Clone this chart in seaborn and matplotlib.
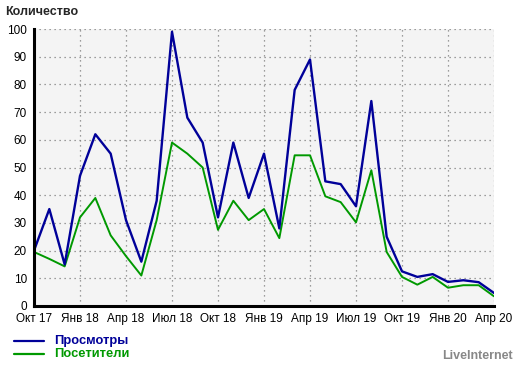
"""Monthly views and visitors, LiveInternet-style counter chart."""

import matplotlib

matplotlib.use("Agg")
import matplotlib.pyplot as plt
import numpy as np
import pandas as pd
import seaborn as sns

# Oct 2017 .. Apr 2020, one value per month
months = pd.date_range("2017-10-01", "2020-04-01", freq="MS")
views = [20, 35, 15, 47, 62, 55, 31, 16, 38, 99, 68, 59, 32, 59, 39, 55,
         28, 78, 89, 45, 44, 36, 74, 25, 12.5, 10.5, 11.5, 8.7, 9.3, 8.6, 4.7]
visitors = [19.5, 17, 14.3, 32, 39, 25.5, 18, 11, 31, 59, 55, 50, 27.5, 38,
            31, 35, 24.5, 54.4, 54.4, 39.6, 37.5, 30.2, 49, 19.5, 10.5, 7.7,
            10.5, 6.6, 7.5, 7.5, 3.5]
tick_labels = ["Окт 17", "Янв 18", "Апр 18", "Июл 18", "Окт 18", "Янв 19",
               "Апр 19", "Июл 19", "Окт 19", "Янв 20", "Апр 20"]
y_ticks = list(range(0, 101, 10))

BLUE = "#000099"
GREEN = "#009900"

sns.set_style("white")
plt.rcParams["font.family"] = ["Liberation Sans", "DejaVu Sans"]

df = pd.DataFrame({"idx": np.arange(len(months)), "views": views, "visitors": visitors})

fig = plt.figure(figsize=(5.2, 3.66), dpi=100)
ax = fig.add_axes([34 / 520, 1 - 306 / 366, 460 / 520, 277 / 366])
ax.set_facecolor("#f4f4f4")

sns.lineplot(data=df, x="idx", y="visitors", color=GREEN, lw=1.4, ax=ax)
sns.lineplot(data=df, x="idx", y="views", color=BLUE, lw=1.7, ax=ax)

ax.set_xlim(0, len(months) - 1)
ax.set_ylim(0, 100)
ax.set_xticks(np.arange(0, len(months), 3))
ax.set_xticklabels(tick_labels)
ax.set_yticks(y_ticks)
ax.set_xlabel("")
ax.set_ylabel("")
ax.grid(True, color="#808080", linestyle=(0, (1, 3)), lw=0.9)
ax.tick_params(axis="both", labelsize=8.5, length=3, width=1, colors="black",
               direction="out", pad=2)
for side in ("top", "right"):
    ax.spines[side].set_visible(False)
for side in ("left", "bottom"):
    ax.spines[side].set_linewidth(2.2)
    ax.spines[side].set_color("black")

fig.text(5 / 520, 1 - 12 / 366, "Количество", fontsize=9, fontweight="bold",
         va="center", ha="left")

# legend drawn by hand below the axes
for y, label, color in [(341, "Просмотры", BLUE), (354, "Посетители", GREEN)]:
    fig.add_artist(plt.Line2D([14 / 520, 44 / 520], [1 - y / 366] * 2,
                              color=color, lw=1.6))
    fig.text(54 / 520, 1 - y / 366, label, color=color, fontsize=9.3,
             fontweight="bold", va="center", ha="left")
fig.text(513 / 520, 1 - 356 / 366, "LiveInternet", color="#888888", fontsize=9,
         fontweight="bold", va="center", ha="right")

fig.savefig("out.png", dpi=100)
